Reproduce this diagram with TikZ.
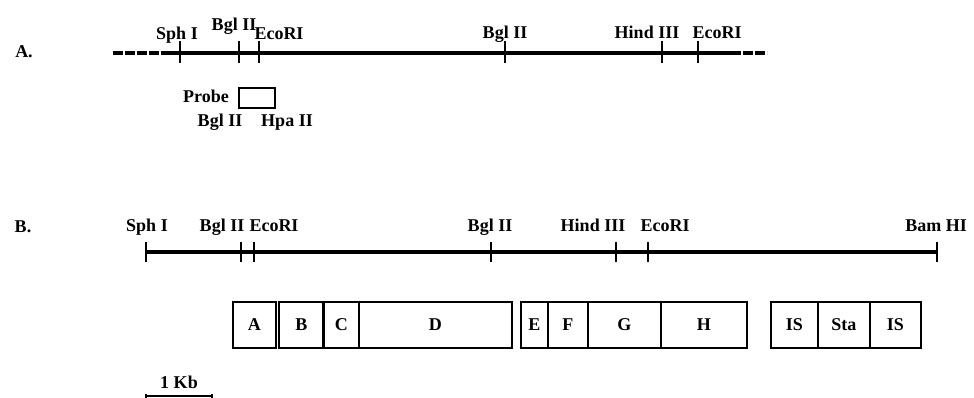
\documentclass[tikz,border=0pt]{standalone}
\usepackage{fontspec}
\setmainfont{Liberation Serif}
\begin{document}
\begin{tikzpicture}[x=1pt,y=-1pt,
  font=\bfseries\fontsize{18}{18}\selectfont,
  lbl/.style={inner sep=0pt, anchor=base},
  dna/.style={line width=4.4pt},
  dnadash/.style={line width=4.4pt, dash pattern=on 9.5pt off 2.5pt},
  cut/.style={line width=1.7pt},
  seg/.style={draw, line width=1.8pt, minimum height=46pt, inner sep=0pt, anchor=north west}]
\useasboundingbox (0,0) rectangle (974,398);

% ---------- A: genomic region ----------
\node[lbl] (labA) at (24,58) {A.};
\coordinate (aL) at (113,53);
\coordinate (aS) at (161,53);
\coordinate (aE) at (731,53);
\coordinate (aR) at (767,53);
\draw[dnadash] (aL) -- (aS);
\draw[dna] (aS) -- (aE);
\draw[dnadash] (aE) -- (aR);
\foreach \n/\x in {sph/180, bglA/239, ecoA/259, bglB/505, hind/662, ecoB/698}{
  \coordinate (t\n) at (\x,53);
  \draw[cut] ([yshift=-10pt]t\n) -- ([yshift=12pt]t\n);
}
\node[lbl] at (177,40) {Sph I};
\node[lbl] at (234,31) {Bgl II};
\node[lbl] at (279,40) {EcoRI};
\node[lbl] at (505,39) {Bgl II};
\node[lbl] at (647,39) {Hind III};
\node[lbl] at (717,39) {EcoRI};

% probe
\node[draw, line width=1.6pt, minimum width=36pt, minimum height=20pt, inner sep=0pt,
      anchor=north west] (probe) at (238,87) {};
\node[lbl, anchor=base east] at (229,103) {Probe};
\node[lbl] at (220,127) {Bgl II};
\node[lbl] at (287,127) {Hpa II};

% ---------- B: cloned fragment ----------
\node[lbl] (labB) at (23,232) {B.};
\coordinate (bL) at (146,252);
\coordinate (bR) at (937,252);
\draw[dna] (bL) -- (bR);
\foreach \n/\x in {sph/146, bglA/241, ecoA/254, bglB/491, hind/616, ecoB/648, bam/937}{
  \coordinate (u\n) at (\x,252);
  \draw[cut] ([yshift=-10pt]u\n) -- ([yshift=10pt]u\n);
}
\node[lbl] at (147,231) {Sph I};
\node[lbl] at (222,231) {Bgl II};
\node[lbl] at (274,231) {EcoRI};
\node[lbl] at (490,231) {Bgl II};
\node[lbl] at (593,231) {Hind III};
\node[lbl] at (665,231) {EcoRI};
\node[lbl] at (936,231) {Bam HI};

% open reading frames
\node[seg, minimum width=43pt] (A) at (232,301) {A};
\node[seg, minimum width=45pt] (B) at (278,301) {B};
\node[seg, minimum width=35pt] (C) at (323,301) {C};
\node[seg, minimum width=153pt] (D) at (358,301) {D};
\node[seg, minimum width=27pt] (E) at (520,301) {E};
\node[seg, minimum width=40pt] (F) at (547,301) {F};
\node[seg, minimum width=73pt] (G) at (587,301) {G};
\node[seg, minimum width=86pt] (H) at (660,301) {H};
\node[seg, minimum width=47pt] (IS1) at (770,301) {IS};
\node[seg, minimum width=52pt] (Sta) at (817,301) {Sta};
\node[seg, minimum width=51pt] (IS2) at (869,301) {IS};
\draw[line width=1.8pt] (C.north west) -- (C.south west);

% scale bar
\coordinate (k0) at (146,396);
\coordinate (k1) at (212,396);
\draw[line width=2.6pt] (k0) -- (k1);
\draw[cut] ([yshift=-6pt]k0) -- ([yshift=2pt]k0);
\draw[cut] ([yshift=-6pt]k1) -- ([yshift=2pt]k1);
\node[lbl] at (179,388) {1 Kb};
\end{tikzpicture}
\end{document}
